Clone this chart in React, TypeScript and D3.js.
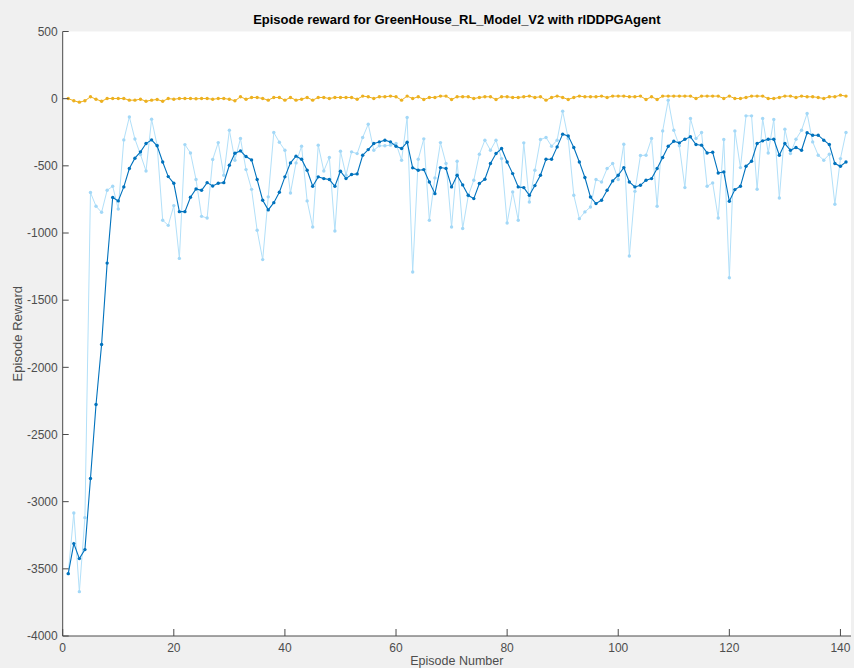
import React from "react";
import * as d3 from "d3";

// Per-episode reward from the training run
const episodeReward: number[] = [
  -3536, -3084, -3670, -3119, -699, -801, -846, -682, -652, -821,
  -307, -136, -300, -416, -538, -153, -346, -905, -943, -796,
  -1189, -342, -404, -602, -876, -888, -453, -327, -570, -235,
  -458, -297, -528, -675, -980, -1198, -731, -252, -324, -384,
  -702, -478, -354, -761, -955, -346, -538, -438, -985, -391,
  -570, -396, -409, -289, -190, -384, -351, -351, -346, -334,
  -458, -140, -1290, -451, -299, -905, -590, -327, -483, -955,
  -466, -967, -724, -607, -414, -309, -384, -309, -446, -925,
  -694, -905, -329, -769, -533, -304, -289, -354, -309, -93,
  -297, -719, -893, -843, -806, -602, -620, -520, -483, -602,
  -339, -1171, -690, -423, -421, -297, -801, -240, -11, -235,
  -351, -662, -148, -297, -252, -652, -627, -888, -304, -1333,
  -240, -513, -128, -128, -674, -148, -404, -155, -739, -227,
  -409, -302, -235, -110, -322, -421, -458, -414, -786, -446,
  -252,
];

// Running average reward
const averageReward: number[] = [
  -3536, -3312, -3424, -3357, -2828, -2277, -1830, -1224, -736, -761,
  -657, -520, -443, -396, -334, -307, -351, -471, -580, -630,
  -841, -841, -734, -672, -682, -625, -650, -630, -625, -496,
  -406, -389, -431, -456, -602, -756, -828, -774, -697, -582,
  -478, -428, -451, -533, -652, -582, -595, -602, -652, -540,
  -595, -565, -560, -421, -379, -334, -322, -309, -322, -354,
  -371, -324, -515, -533, -528, -620, -707, -513, -520, -657,
  -570, -642, -719, -744, -632, -600, -483, -408, -371, -471,
  -558, -657, -662, -719, -647, -570, -451, -451, -359, -264,
  -277, -364, -471, -587, -732, -781, -756, -682, -612, -570,
  -513, -620, -657, -645, -607, -595, -520, -438, -354, -317,
  -329, -302, -284, -341, -346, -404, -399, -553, -545, -764,
  -677, -652, -503, -466, -334, -314, -302, -302, -421, -334,
  -384, -364, -384, -254, -272, -272, -309, -341, -483, -503,
  -471,
];

// Critic's initial value estimate (Episode Q0)
const episodeQ0: number[] = [
  1, -16, -26, -16, 14, -4, -19, 1, 1, 1,
  1, -11, -11, -4, -19, -11, -6, -19, 1, -4,
  1, 1, 1, -1, 1, 1, -4, 1, 1, -4,
  -16, 14, -4, 9, 9, 1, -11, 9, 9, -11,
  9, -11, -4, 9, -11, 9, 9, 1, 9, 9,
  9, 9, -4, 19, 14, 1, 14, 14, 19, 14,
  -11, 19, 1, 14, -6, 9, 9, 19, 19, -6,
  14, 14, 14, 1, 9, 14, 14, -6, 14, 14,
  9, 9, 14, 19, 9, 14, -11, 9, 19, 9,
  -6, 9, 19, 14, 14, 14, 19, 9, 19, 19,
  19, 14, 14, 19, -6, 14, -6, 19, 19, 19,
  19, 19, 19, 1, 19, 19, 19, 19, 1, 19,
  1, 1, 9, 19, 19, 19, 1, 1, 9, 19,
  19, 9, 19, 14, 14, 9, 1, 14, 14, 26,
  19,
];

const xTicks: number[] = [0, 20, 40, 60, 80, 100, 120, 140];
const yTicks: number[] = [500, 0, -500, -1000, -1500, -2000, -2500, -3000, -3500, -4000];

const titleText = "Episode reward for GreenHouse_RL_Model_V2 with rlDDPGAgent";
const xLabel = "Episode Number";
const yLabel = "Episode Reward";

const W = 854;
const H = 668;
const plot = { left: 62.7, right: 851, top: 31.5, bottom: 636 };
const FONT = "'Liberation Sans', Arial, Helvetica, sans-serif";
const AXIS = "#4a4a4a";
const TICKTXT = "#4d4d4d";

export default function App() {
  const x = d3.scaleLinear().domain([0, 141.9]).range([plot.left, plot.right]);
  const y = d3.scaleLinear().domain([-4000, 500]).range([plot.bottom, plot.top]);

  const toPts = (arr: number[]) => arr.map((v, i) => [i + 1, v] as [number, number]);
  const line = d3
    .line<[number, number]>()
    .x((d) => x(d[0]))
    .y((d) => y(d[1]));

  const series = [
    { data: toPts(episodeReward), stroke: "#b2e0f9", dot: "#a3d8f7", width: 1 },
    { data: toPts(averageReward), stroke: "#0072bd", dot: "#0072bd", width: 1.1 },
    { data: toPts(episodeQ0), stroke: "#edb120", dot: "#edb120", width: 1 },
  ];

  return (
    <svg
      width={W}
      height={H}
      style={{ position: "absolute", left: 0, top: 0, display: "block" }}
      fontFamily={FONT}
    >
      <rect x={0} y={0} width={W} height={H} fill="#f0f0f0" />
      <rect
        x={plot.left}
        y={plot.top}
        width={plot.right - plot.left}
        height={plot.bottom - plot.top}
        fill="#ffffff"
      />

      {series.map((s, k) => (
        <g key={k}>
          <path d={line(s.data) ?? ""} fill="none" stroke={s.stroke} strokeWidth={s.width} />
          {s.data.map((d, i) => (
            <circle key={i} cx={x(d[0])} cy={y(d[1])} r={1.7} fill={s.dot} />
          ))}
        </g>
      ))}

      {/* axes */}
      <line x1={plot.left} x2={plot.left} y1={plot.top} y2={plot.bottom} stroke={AXIS} strokeWidth={1} />
      <line x1={plot.left} x2={plot.right} y1={plot.bottom} y2={plot.bottom} stroke={AXIS} strokeWidth={1} />

      {yTicks.map((t) => (
        <g key={"y" + t}>
          <line x1={plot.left} x2={plot.left + 6} y1={y(t)} y2={y(t)} stroke={AXIS} strokeWidth={1} />
          <text
            x={plot.left - 5}
            y={y(t)}
            dy="0.35em"
            textAnchor="end"
            fontSize={12}
            fill={TICKTXT}
          >
            {t}
          </text>
        </g>
      ))}

      {xTicks.map((t) => (
        <g key={"x" + t}>
          <line x1={x(t)} x2={x(t)} y1={plot.bottom} y2={plot.bottom - 7} stroke={AXIS} strokeWidth={1} />
          <text x={x(t)} y={651.5} textAnchor="middle" fontSize={12} fill={TICKTXT}>
            {t}
          </text>
        </g>
      ))}

      <text
        x={(plot.left + plot.right) / 2}
        y={23.5}
        textAnchor="middle"
        fontSize={13}
        fontWeight="bold"
        fill="#000000"
      >
        {titleText}
      </text>

      <text
        x={(plot.left + plot.right) / 2}
        y={665.3}
        textAnchor="middle"
        fontSize={12.5}
        fill={TICKTXT}
      >
        {xLabel}
      </text>

      <text
        transform={`translate(21.5, ${(plot.top + plot.bottom) / 2}) rotate(-90)`}
        textAnchor="middle"
        fontSize={13}
        fill={TICKTXT}
      >
        {yLabel}
      </text>
    </svg>
  );
}
